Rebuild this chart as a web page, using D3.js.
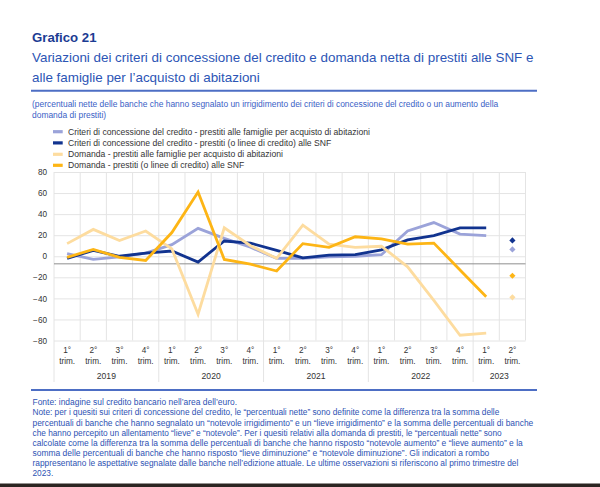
<!DOCTYPE html>
<html>
<head>
<meta charset="utf-8">
<script src="https://cdn.jsdelivr.net/npm/d3@7"></script>
<style>
  body { margin: 0; background: #fff; }
  text { font-family: "Liberation Sans", Arial, sans-serif; }
</style>
</head>
<body>
<div id="chart"></div>
<script>
// Data (net percentages), 2019 Q1 .. 2023 Q1, plus the 2023 Q2 expectations
const quarterLabels = ["1°", "2°", "3°", "4°", "1°", "2°", "3°", "4°", "1°", "2°", "3°", "4°", "1°", "2°", "3°", "4°", "1°", "2°"];
const yearLabels = ["2019", "2020", "2021", "2022", "2023"];
const quartersPerYear = [4, 4, 4, 4, 2];

const criteriFamiglie = [2.5, -3, -0.5, 3, 11, 26.5, 17, 8.5, -2, -2, -0.5, 0, 1.5, 24, 32, 21, 19.5];
const criteriSNF = [-2, 5.5, 0, 3, 5, -5.5, 14.5, 12.5, 5.5, -1.5, 1, 1.5, 6, 15.5, 19.5, 27, 27];
const domandaFamiglie = [12, 25.5, 15, 24, 7, -55, 27, 10, -2, 29.5, 11.5, 8.5, 9.5, -10, -42, -75, -73];
const domandaSNF = [-1, 6.5, -1, -4, 22.5, 61, -3, -7.5, -14, 12, 8.5, 18.5, 16.5, 11.5, 12.5, -13, -38.5];
// expectations for 2° trim. 2023 (diamonds), same order as the series
const aspettative = [6.5, 15, -39, -18.5];

const seriesNames = [
  "Criteri di concessione del credito - prestiti alle famiglie per acquisto di abitazioni",
  "Criteri di concessione del credito - prestiti (o linee di credito) alle SNF",
  "Domanda - prestiti alle famiglie per acquisto di abitazioni",
  "Domanda - prestiti (o linee di credito) alle SNF"
];
const yTicks = [80, 60, 40, 20, 0, -20, -40, -60, -80];

const footerLines = [
  "Fonte: indagine sul credito bancario nell’area dell’euro.",
  "Note: per i quesiti sui criteri di concessione del credito, le “percentuali nette” sono definite come la differenza tra la somma delle",
  "percentuali di banche che hanno segnalato un “notevole irrigidimento” e un “lieve irrigidimento” e la somma delle percentuali di banche",
  "che hanno percepito un allentamento “lieve” e “notevole”. Per i quesiti relativi alla domanda di prestiti, le “percentuali nette” sono",
  "calcolate come la differenza tra la somma delle percentuali di banche che hanno risposto “notevole aumento” e “lieve aumento” e la",
  "somma delle percentuali di banche che hanno risposto “lieve diminuzione” e “notevole diminuzione”. Gli indicatori a rombo",
  "rappresentano le aspettative segnalate dalle banche nell’edizione attuale. Le ultime osservazioni si riferiscono al primo trimestre del",
  "2023."
];
// where each footer line ends in the source (last line left natural)
const footerEnds = [237, 499.3, 533.3, 501.7, 522.7, 489.3, 518.3, null];

// Chart params
const svgWidth = 600;
const svgHeight = 487;
const plot = { left: 54, right: 525.5, top: 172, bottom: 340.5 };
const colors = ["#9ba3d9", "#11338f", "#fddc9f", "#fdb515"];
const blue = "#2d52b3";

const svg = d3.select("#chart")
  .append("svg")
  .attr("width", svgWidth)
  .attr("height", svgHeight);

// Titles
svg.append("text")
  .attr("x", 32).attr("y", 42)
  .attr("font-size", 13.2).attr("font-weight", "bold")
  .attr("fill", "#1c3c93")
  .text("Grafico 21");

const subtitle = ["Variazioni dei criteri di concessione del credito e domanda netta di prestiti alle SNF e",
  "alle famiglie per l’acquisto di abitazioni"];
svg.selectAll(".subtitle")
  .data(subtitle)
  .enter()
  .append("text")
  .attr("x", 32)
  .attr("y", (d, i) => 62 + i * 20)
  .attr("font-size", 13.4)
  .attr("fill", "#2c55b5")
  .text(d => d);

svg.append("line")
  .attr("x1", 31).attr("x2", 537).attr("y1", 90.7).attr("y2", 90.7)
  .attr("stroke", "#4d6ec4").attr("stroke-width", 2);

const unitLines = ["(percentuali nette delle banche che hanno segnalato un irrigidimento dei criteri di concessione del credito o un aumento della",
  "domanda di prestiti)"];
svg.selectAll(".unit")
  .data(unitLines)
  .enter()
  .append("text")
  .attr("x", 32)
  .attr("y", (d, i) => 107 + i * 11)
  .attr("font-size", 8.45)
  .attr("fill", "#3a61c6")
  .text(d => d);

// Legend
const legend = svg.selectAll(".legend")
  .data(seriesNames)
  .enter()
  .append("g")
  .attr("transform", (d, i) => `translate(53, ${[131.7, 142.9, 154.3, 165.3][i]})`);
legend.append("rect")
  .attr("x", 0).attr("y", -1.6)
  .attr("width", 9.7).attr("height", 3.2)
  .attr("fill", (d, i) => colors[i]);
legend.append("text")
  .attr("x", 15).attr("y", 3)
  .attr("font-size", 8.6)
  .attr("fill", "#333")
  .text(d => d);

// Scales
const xScale = d3.scaleBand()
  .domain(d3.range(quarterLabels.length))
  .range([plot.left, plot.right]);
const yScale = d3.scaleLinear()
  .domain([-80, 80])
  .range([plot.bottom, plot.top]);
const bw = xScale.bandwidth();
const cx = i => xScale(i) + bw / 2;

// Horizontal gridlines + y labels via axis
const yAxis = svg.append("g")
  .attr("transform", `translate(${plot.left}, 0)`)
  .call(d3.axisLeft(yScale).tickValues(yTicks).tickSize(-(plot.right - plot.left)).tickPadding(7));
yAxis.select(".domain").remove();
yAxis.selectAll(".tick line").attr("stroke", "#e4e4e4");
yAxis.selectAll(".tick text")
  .attr("font-size", 8.2)
  .attr("font-family", "Liberation Sans, Arial, sans-serif")
  .attr("fill", "#333");

// Vertical gridlines at quarter boundaries, year separators run down to the year labels
const boundaries = d3.range(quarterLabels.length + 1);
const yearStarts = d3.cumsum([0].concat(quartersPerYear.slice(0, -1)));
svg.selectAll(".vgrid")
  .data(boundaries)
  .enter()
  .append("line")
  .attr("x1", k => plot.left + k * xScale.step())
  .attr("x2", k => plot.left + k * xScale.step())
  .attr("y1", plot.top)
  .attr("y2", k => yearStarts.includes(k) ? 382 : plot.bottom)
  .attr("stroke", "#e4e4e4");

// Axis line (drawn slightly below zero in the source)
svg.append("line")
  .attr("x1", plot.left).attr("x2", plot.right)
  .attr("y1", yScale(-7.2)).attr("y2", yScale(-7.2))
  .attr("stroke", "#8e8e8e").attr("stroke-width", 1);

// Category labels
const cat = svg.selectAll(".cat")
  .data(quarterLabels)
  .enter()
  .append("g")
  .attr("transform", (d, i) => `translate(${cx(i)}, 0)`);
cat.append("text")
  .attr("y", 353).attr("text-anchor", "middle")
  .attr("font-size", 8.2).attr("fill", "#333")
  .text(d => d);
cat.append("text")
  .attr("y", 363.5).attr("text-anchor", "middle")
  .attr("font-size", 8.2).attr("fill", "#333")
  .text("trim.");

svg.selectAll(".year")
  .data(yearLabels)
  .enter()
  .append("text")
  .attr("x", (d, i) => xScale(yearStarts[i]) + quartersPerYear[i] * xScale.step() / 2)
  .attr("y", 379)
  .attr("text-anchor", "middle")
  .attr("font-size", 8.6).attr("fill", "#333")
  .text(d => d);

// Lines
const allSeries = [criteriFamiglie, criteriSNF, domandaFamiglie, domandaSNF];
const line = d3.line()
  .x((d, i) => cx(i))
  .y(d => yScale(d));
svg.selectAll(".series")
  .data(allSeries)
  .enter()
  .append("path")
  .attr("d", d => line(d))
  .attr("fill", "none")
  .attr("stroke", (d, i) => colors[i])
  .attr("stroke-width", 2.8);

// Diamonds for expectations
const diamond = d3.symbol().type(d3.symbolSquare).size(19);
svg.selectAll(".exp")
  .data(aspettative)
  .enter()
  .append("path")
  .attr("d", diamond)
  .attr("transform", d => `translate(${cx(quarterLabels.length - 1)}, ${yScale(d)}) rotate(45)`)
  .attr("fill", (d, i) => colors[i]);

// Footer
svg.append("line")
  .attr("x1", 31).attr("x2", 537).attr("y1", 390).attr("y2", 390)
  .attr("stroke", "#4d6ec4").attr("stroke-width", 2);

const foot = svg.selectAll(".foot")
  .data(footerLines)
  .enter()
  .append("text")
  .attr("x", 32.5)
  .attr("y", (d, i) => 405.3 + i * 10.15)
  .attr("font-size", 8.3)
  .attr("fill", blue)
  .text(d => d);
foot.filter((d, i) => footerEnds[i] !== null)
  .attr("textLength", (d, i) => footerEnds[i] - 32.5)
  .attr("lengthAdjust", "spacingAndGlyphs");

// dark strip at the very bottom of the page
svg.append("rect")
  .attr("x", 0).attr("y", 483.5)
  .attr("width", svgWidth).attr("height", svgHeight - 483.5)
  .attr("fill", "#2b2521");
</script>
</body>
</html>
